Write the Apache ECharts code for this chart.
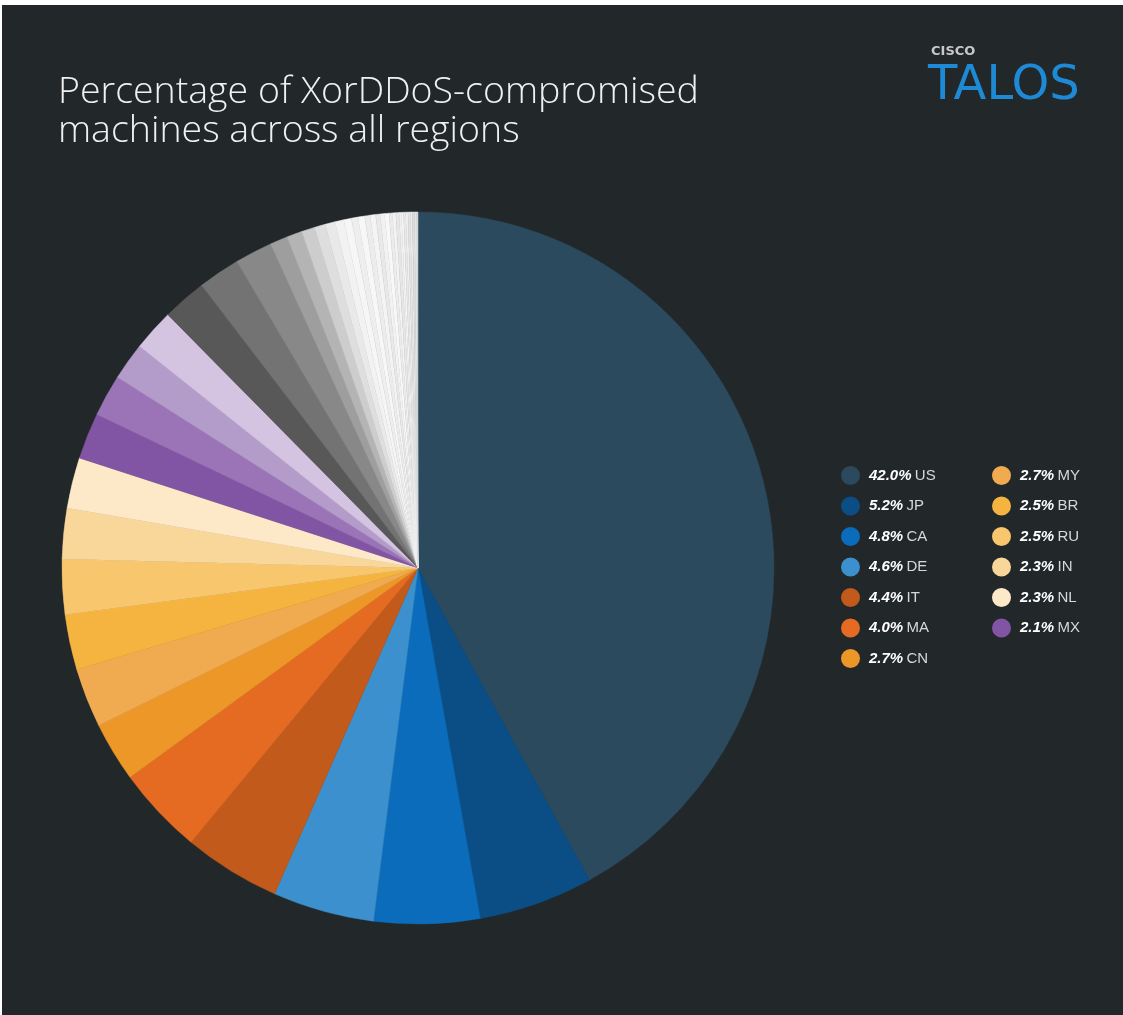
<!DOCTYPE html>
<html>
<head>
<meta charset="utf-8">
<style>
  html, body { margin: 0; padding: 0; background: #ffffff; }
  #chart { position: absolute; left: 0; top: 0; width: 1123px; height: 1015px; }
</style>
<script src="https://cdn.jsdelivr.net/npm/echarts@6/dist/echarts.min.js"></script>
</head>
<body>
<div id="chart"></div>
<script>
// Labelled regions (legend)
const categories = ['US', 'JP', 'CA', 'DE', 'IT', 'MA', 'CN', 'MY', 'BR', 'RU', 'IN', 'NL', 'MX'];
const shares = [42.0, 5.2, 4.8, 4.6, 4.4, 4.0, 2.7, 2.7, 2.5, 2.5, 2.3, 2.3, 2.1];
const categoryColors = ['#2b4a5e', '#0b4e86', '#0a6cba', '#3b90cd', '#c15a1a', '#e56b22', '#ec9728',
  '#f0aa50', '#f5b43f', '#f8c66c', '#f9d699', '#fde8c8', '#8254a4'];

// Unlabelled remaining regions
const otherShares = [1.9, 1.7, 1.9, 2.0, 1.9, 1.7, 0.8,
  0.7, 0.6, 0.5, 0.45, 0.4, 0.35, 0.3, 0.3, 0.25, 0.25, 0.2, 0.2, 0.2,
  0.15, 0.15, 0.15, 0.1, 0.1, 0.1, 0.1, 0.1, 0.1, 0.1, 0.1, 0.05];
const otherColors = ['#9b74b8', '#b39bca', '#d4c4e2', '#585858', '#737373', '#888888', '#9e9e9e',
  '#b4b4b4', '#cdcdcd', '#dedede', '#e9e9e9', '#f2f2f2', '#f6f6f6', '#eeeeee', '#f7f7f7', '#ececec',
  '#f4f4f4', '#e8e8e8', '#f1f1f1', '#f8f8f8', '#ebebeb', '#f3f3f3', '#e6e6e6', '#efefef', '#f5f5f5',
  '#e7e7e7', '#efefef', '#e2e2e2', '#eaeaea', '#dddddd', '#e4e4e4', '#d6d6d6'];

const titleLines = ['Percentage of XorDDoS-compromised', 'machines across all regions'];

const pieData = [];
categories.forEach(function (c, i) {
  pieData.push({ name: c, value: shares[i],
    itemStyle: { color: categoryColors[i], borderColor: categoryColors[i], borderWidth: 0.5 } });
});
otherShares.forEach(function (v, i) {
  pieData.push({ name: 'Other ' + (i + 1), value: v,
    itemStyle: { color: otherColors[i], borderColor: otherColors[i], borderWidth: 0.5 } });
});

function fmt(name) {
  const i = categories.indexOf(name);
  return '{p|' + shares[i].toFixed(1) + '%} {n|' + name + '}';
}
const legendText = {
  padding: [0, 0, 0, 5],
  rich: {
    p: { fontFamily: 'Liberation Sans', fontStyle: 'italic', fontWeight: 'bold', fontSize: 15, color: '#ffffff' },
    n: { fontFamily: 'Liberation Sans', fontSize: 15, color: '#d8d8d8' }
  }
};

const chart = echarts.init(document.getElementById('chart'));
chart.setOption({
  backgroundColor: '#22282a',
  animation: false,
  title: {
    text: titleLines.join('\n'),
    left: 53, top: 68,
    textStyle: { fontFamily: 'Open Sans', fontSize: 37.5, fontWeight: 300, color: '#f0f0f0', lineHeight: 39 }
  },
  legend: [
    { data: categories.slice(0, 7), orient: 'vertical', left: 836, top: 461, icon: 'circle',
      itemWidth: 17, itemHeight: 17, itemGap: 11.5, formatter: fmt, textStyle: legendText, selectedMode: false },
    { data: categories.slice(7), orient: 'vertical', left: 987, top: 461, icon: 'circle',
      itemWidth: 17, itemHeight: 17, itemGap: 11.5, formatter: fmt, textStyle: legendText, selectedMode: false }
  ],
  graphic: [
    { type: 'rect', left: 0, top: 0, shape: { width: 1123, height: 5 }, style: { fill: '#ffffff' } },
    { type: 'rect', left: 0, top: 0, shape: { width: 2, height: 1015 }, style: { fill: '#ffffff' } },
    { type: 'text', left: 931, top: 45, style: { text: 'CISCO', fontFamily: 'DejaVu Sans', fontWeight: 'bold', fontSize: 13, fill: '#c8c8c8' } },
    { type: 'text', left: 928, top: 63, style: { text: 'TALOS', fontFamily: 'DejaVu Sans', fontSize: 48, fill: '#1e8ad6' } }
  ],
  series: [{
    type: 'pie',
    center: [418, 568],
    radius: [0, 356],
    startAngle: 90,
    clockwise: true,
    label: { show: false },
    labelLine: { show: false },
    emphasis: { disabled: true },
    data: pieData
  }]
});
</script>
</body>
</html>
